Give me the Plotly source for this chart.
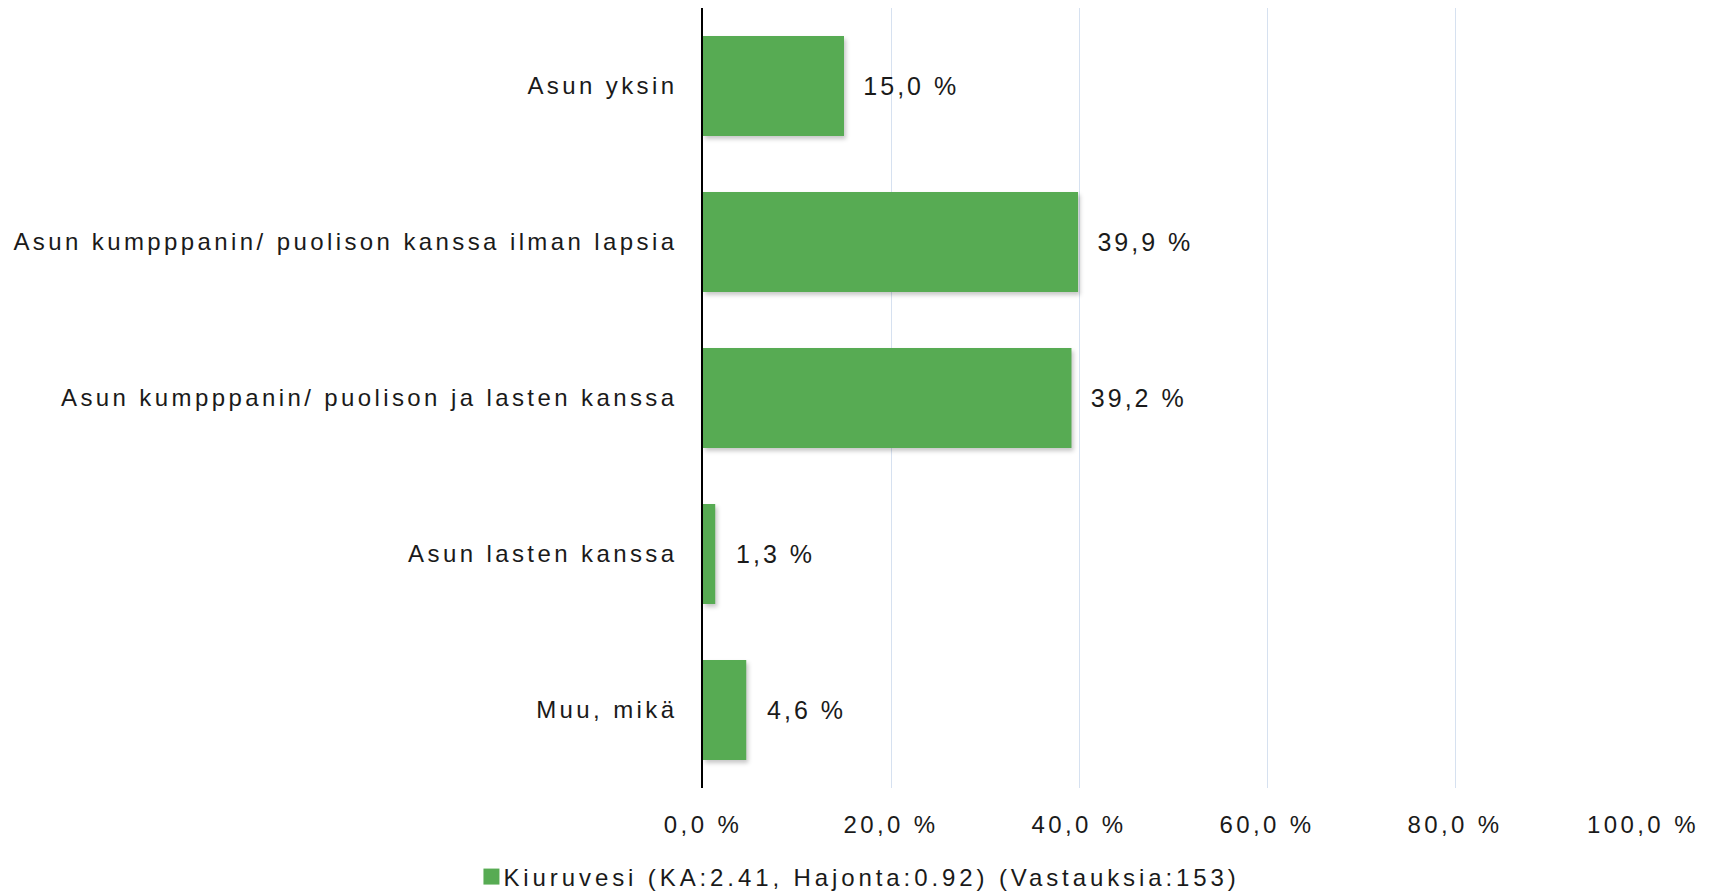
"""Asumismuoto - vaakapylväskaavio (Kiuruvesi)."""

import plotly.graph_objects as go

categories = [
    "Asun yksin",
    "Asun kumpppanin/ puolison kanssa ilman lapsia",
    "Asun kumpppanin/ puolison ja lasten kanssa",
    "Asun lasten kanssa",
    "Muu, mikä",
]
values = [15.0, 39.9, 39.2, 1.3, 4.6]
series_name = "Kiuruvesi (KA:2.41, Hajonta:0.92) (Vastauksia:153)"
tick_vals = [0, 20, 40, 60, 80, 100]
tick_text = ["0,0 %", "20,0 %", "40,0 %", "60,0 %", "80,0 %", "100,0 %"]

FONT = "Liberation Sans, Arial, sans-serif"
BAR_COLOR = "#57ab53"

# labels like "15,0 %" (finnish decimal comma), leading spaces push them off the bar end
labels = ["   " + f"{v:.1f} %".replace(".", ",") for v in values]

fig = go.Figure()

fig.add_trace(
    go.Bar(
        x=values,
        y=categories,
        orientation="h",
        name=series_name,
        marker_color=BAR_COLOR,
        marker_line_width=0,
        text=labels,
        textposition="outside",
        textfont=dict(family=FONT, size=25, color="#1a1a1a"),
        cliponaxis=False,
        showlegend=True,
    )
)

# the page body has an 8px margin, so the figure is sized/offset to compensate
fig.update_layout(
    width=1707,
    height=884,
    margin=dict(l=695, r=72, t=0, b=104),
    plot_bgcolor="white",
    paper_bgcolor="white",
    bargap=0.36,
    font=dict(family=FONT, color="#1a1a1a"),
    legend=dict(
        orientation="h",
        xref="container",
        yref="container",
        x=0.2715,
        xanchor="left",
        y=0.017,
        yanchor="middle",
        font=dict(size=24, color="#1a1a1a"),
        itemwidth=30,
    ),
)

fig.update_xaxes(
    range=[0, 100],
    tickvals=tick_vals,
    ticktext=tick_text,
    showgrid=True,
    gridcolor="#d6e1f0",
    gridwidth=1,
    zeroline=False,
    showline=False,
    ticks="",
    ticklabelstandoff=20,
    tickfont=dict(size=24, color="#1a1a1a"),
)

fig.update_yaxes(
    autorange="reversed",
    showline=True,
    linecolor="black",
    linewidth=1.5,
    ticks="",
    ticklabelstandoff=19,
    tickfont=dict(size=24, color="#1a1a1a"),
    showgrid=False,
)

# the original chart uses widely spaced lettering; legend clip is lifted so the
# spaced-out legend text is not cut at plotly's measured width
spacing_css = """
var css = '.ytick text{letter-spacing:3.4px}'
    + '.xtick text{letter-spacing:3.4px}'
    + '.legendtext{letter-spacing:3.9px;transform:translateX(-8px)}'
    + '.bartext{letter-spacing:3px}'
    + '.legend .scrollbox{clip-path:none !important}'
    + '.legendpoints path{d:path("M8,8H-8V-8H8Z")}'
    + '.barlayer .point path{filter:drop-shadow(2px 3px 2px rgba(0,0,0,0.22))}';
var st = document.createElement('style');
st.textContent = css;
document.head.appendChild(st);
"""

fig.write_html("out.html", post_script=spacing_css)
